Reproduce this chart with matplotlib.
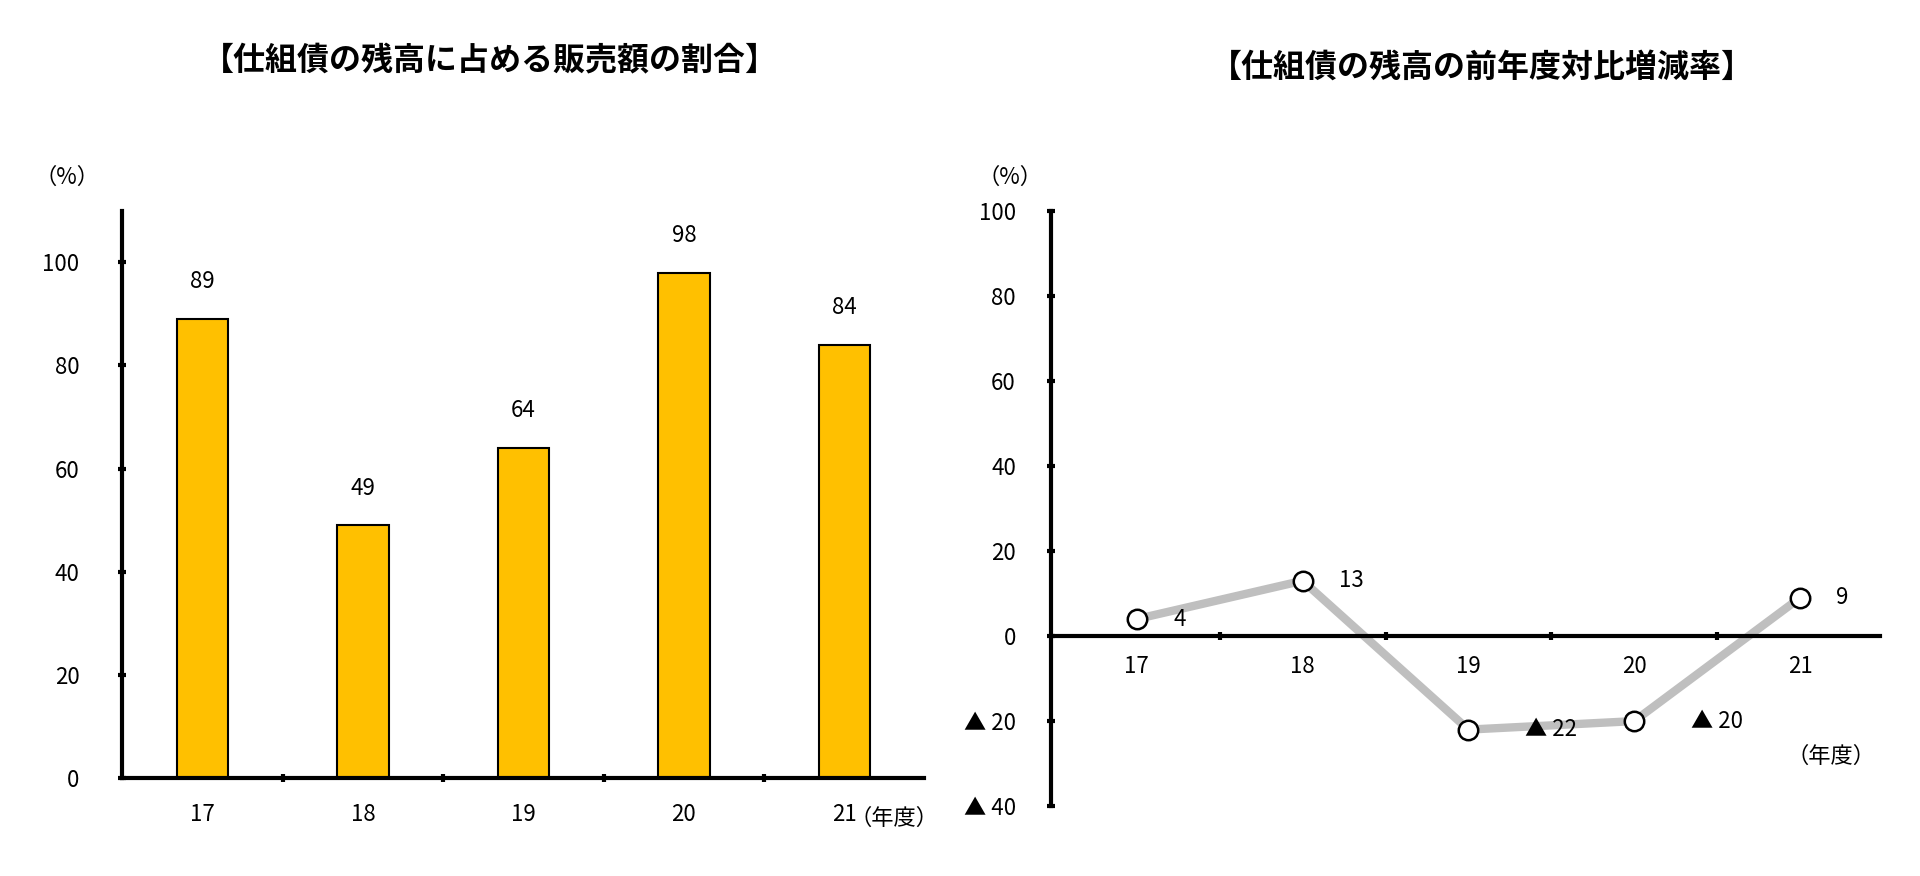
import matplotlib
matplotlib.use("Agg")
import matplotlib.pyplot as plt

plt.rcParams['font.family'] = ['Noto Sans CJK JP', 'DejaVu Sans']

years = ["17", "18", "19", "20", "21"]
share = [89, 49, 64, 98, 84]
change = [4, 13, -22, -20, 9]

W, H = 1568, 715
def fx(x): return x / W
def fy(y): return 1 - y / H

FS = 16
fig = plt.figure(figsize=(19.2, 8.76), dpi=100)

# Left chart
ax1 = fig.add_axes([fx(100), fy(635), fx(755) - fx(100), fy(172) - fy(635)])
x = range(len(years))
ax1.bar(x, share, width=0.32, color='#FFC000', edgecolor='black', linewidth=1.5)
for i, v in enumerate(share):
    ax1.text(i, v + 5, str(v), ha='center', va='bottom', fontsize=FS)
ax1.set_xlim(-0.5, 4.5)
ax1.set_ylim(0, 110)
ax1.set_yticks([0, 20, 40, 60, 80, 100])
ax1.set_xticks(list(x))
ax1.set_xticklabels(years)
ax1.set_xticks([0.5, 1.5, 2.5, 3.5], minor=True)
ax1.tick_params(axis='x', which='major', length=0, pad=18, labelsize=FS)
ax1.tick_params(axis='x', which='minor', length=6, width=3, direction='inout')
ax1.tick_params(axis='y', length=6, width=3, direction='inout', labelsize=FS, pad=28)
for s in ['top', 'right']:
    ax1.spines[s].set_visible(False)
for s in ['left', 'bottom']:
    ax1.spines[s].set_linewidth(3)
fig.text(fx(400), fy(50), "【仕組債の残高に占める販売額の割合】", ha='center', va='center',
         fontsize=23, fontweight='bold')
fig.text(fx(55), fy(145), "（%）", ha='center', va='center', fontsize=FS)
fig.text(fx(730), fy(668), "（年度）", ha='center', va='center', fontsize=FS)

# Right chart
ax2 = fig.add_axes([fx(858), fy(658), fx(1535) - fx(858), fy(172) - fy(658)])
ax2.plot(x, change, color='#BFBFBF', linewidth=6, zorder=2)
ax2.plot(x, change, 'o', markersize=14, markerfacecolor='white', markeredgecolor='black',
         markeredgewidth=1.8, zorder=3, clip_on=False)
for i, v in enumerate(change):
    lab = str(v) if v >= 0 else "▲ " + str(-v)
    ax2.text(i + 0.22 + (0.12 if v < 0 else 0), v, lab, ha='left', va='center', fontsize=FS)
ax2.set_xlim(-0.52, 4.48)
ax2.set_ylim(-40, 100)
ax2.set_yticks([-40, -20, 0, 20, 40, 60, 80, 100])
ax2.set_yticklabels(["▲ 40", "▲ 20", "0", "20", "40", "60", "80", "100"])
ax2.set_xticks(list(x))
ax2.set_xticklabels(years)
ax2.set_xticks([0.5, 1.5, 2.5, 3.5], minor=True)
ax2.tick_params(axis='x', which='major', length=0, pad=14, labelsize=FS)
ax2.tick_params(axis='x', which='minor', length=6, width=3, direction='inout')
ax2.tick_params(axis='y', length=6, width=3, direction='inout', pad=22, labelsize=FS)
ax2.spines['bottom'].set_position(('data', 0))
for s in ['top', 'right']:
    ax2.spines[s].set_visible(False)
for s in ['left', 'bottom']:
    ax2.spines[s].set_linewidth(3)
fig.text(fx(1210), fy(55), "【仕組債の残高の前年度対比増減率】", ha='center', va='center',
         fontsize=23, fontweight='bold')
fig.text(fx(825), fy(145), "（%）", ha='center', va='center', fontsize=FS)
fig.text(fx(1495), fy(617), "（年度）", ha='center', va='center', fontsize=FS)

fig.savefig("out.png", dpi=100)
